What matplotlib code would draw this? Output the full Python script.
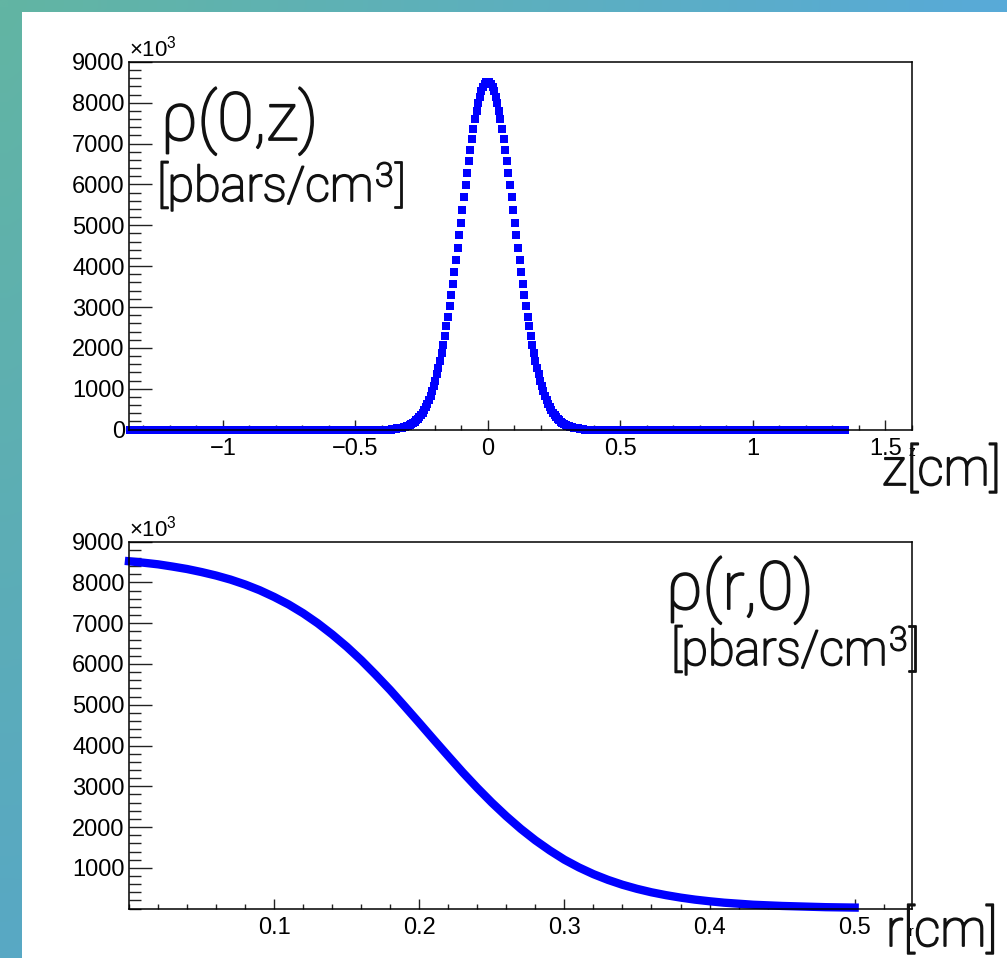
import numpy as np
import matplotlib
matplotlib.use("Agg")
import matplotlib.pyplot as plt
import matplotlib.patheffects as pe
from matplotlib.patches import Rectangle
from matplotlib.ticker import MultipleLocator

plt.rcParams["font.family"] = ["Liberation Sans", "DejaVu Sans"]
plt.rcParams["mathtext.fontset"] = "custom"
plt.rcParams["mathtext.rm"] = "Liberation Sans"
plt.rcParams["mathtext.it"] = "Liberation Sans:italic"

# ---- data (values in units of 10^3 pbars/cm^3) ----
# axial profile rho(0,z): 451 bins from -1.35 to 1.35 cm, zero outside |z|<0.36
z_grid = np.linspace(-1.35, 1.35, 451)
rho_z_peak = [
    15, 15, 20, 25, 30, 35, 45, 55, 65, 80,
    95, 115, 135, 160, 190, 225, 260, 305, 355, 415,
    480, 550, 635, 725, 825, 940, 1065, 1200, 1350, 1510,
    1685, 1875, 2075, 2295, 2525, 2765, 3020, 3290, 3565, 3850,
    4145, 4450, 4755, 5065, 5375, 5685, 5985, 6285, 6575, 6855,
    7115, 7365, 7595, 7800, 7985, 8145, 8280, 8385, 8460, 8505,
    8520,
    8505, 8460, 8385, 8280, 8145, 7985, 7800, 7595, 7365, 7115,
    6855, 6575, 6285, 5985, 5685, 5375, 5065, 4755, 4450, 4145,
    3850, 3565, 3290, 3020, 2765, 2525, 2295, 2075, 1875, 1685,
    1510, 1350, 1200, 1065, 940, 825, 725, 635, 550, 480,
    415, 355, 305, 260, 225, 190, 160, 135, 115, 95,
    80, 65, 55, 45, 35, 30, 25, 20, 15, 15,
]
n_pad = (len(z_grid) - len(rho_z_peak)) // 2
rho_z = np.concatenate([np.zeros(n_pad), rho_z_peak, np.zeros(n_pad)])

# radial profile rho(r,0): r = 0 .. 0.5 cm in 0.01 steps
r_grid = np.linspace(0.0, 0.5, 51)
rho_r = [
    8520, 8485, 8445, 8390, 8330, 8255, 8170, 8070, 7950, 7810,
    7645, 7460, 7245, 7000, 6725, 6425, 6095, 5735, 5360, 4960,
    4555, 4145, 3740, 3340, 2960, 2600, 2265, 1955, 1675, 1425,
    1200, 1010, 845, 705, 585, 485, 400, 330, 270, 220,
    180, 145, 120, 95, 80, 65, 55, 45, 35, 30, 25,
]

z_ticks = [-1, -0.5, 0, 0.5, 1, 1.5]
z_ticklabels = ["\u22121", "\u22120.5", "0", "0.5", "1", "1.5"]
r_ticks = [0.1, 0.2, 0.3, 0.4, 0.5]
r_ticklabels = ["0.1", "0.2", "0.3", "0.4", "0.5"]
top_yticks = list(range(0, 9001, 1000))
bot_yticks = list(range(1000, 9001, 1000))

W, H = 1007, 958
fig = plt.figure(figsize=(W / 100, H / 100), dpi=100)

# teal/blue gradient frame behind a white slide panel
bg = fig.add_axes([0, 0, 1, 1], zorder=-3)
gx, gy = np.meshgrid(np.linspace(0, 1, 64), np.linspace(0, 1, 64))
c_tl = np.array([98, 181, 163]) / 255
c_tr = np.array([88, 170, 216]) / 255
c_bl = np.array([88, 168, 196]) / 255
c_br = np.array([88, 170, 216]) / 255
grad = ((1 - gx)[..., None] * (1 - gy)[..., None] * c_tl + gx[..., None] * (1 - gy)[..., None] * c_tr
        + (1 - gx)[..., None] * gy[..., None] * c_bl + gx[..., None] * gy[..., None] * c_br)
bg.imshow(grad, extent=[0, 1, 0, 1], aspect="auto", interpolation="bilinear")
bg.axis("off")
fig.add_artist(Rectangle((21.5 / W, 0), 1, 1 - 12 / H, transform=fig.transFigure,
                         facecolor="white", edgecolor="none", zorder=-2))


def style_axes(ax, xminor):
    ax.xaxis.set_minor_locator(MultipleLocator(xminor))
    ax.yaxis.set_minor_locator(MultipleLocator(200))
    ax.tick_params(direction="in", which="both", top=False, right=False,
                   labelsize=17, width=1.0, color="#222222")
    ax.tick_params(axis="x", which="major", length=7.2, pad=6)
    ax.tick_params(axis="x", which="minor", length=3.6)
    ax.tick_params(axis="y", which="major", length=16.5, pad=3)
    ax.tick_params(axis="y", which="minor", length=8.6)
    for sp in ax.spines.values():
        sp.set_linewidth(1.1)
    ax.annotate(r"$\mathregular{\times10^{3}}$", xy=(0, 1), xycoords="axes fraction",
                xytext=(0, 5), textcoords="offset pixels", ha="left", va="baseline",
                fontsize=16)


# top panel: rho(0,z)
ax1 = fig.add_axes([129 / W, 1 - 429.5 / H, (911.7 - 129) / W, (429.5 - 62) / H])
ax1.plot(z_grid, rho_z, "s", color="blue", ms=5.4, mew=0, clip_on=False)
ax1.set_xlim(-1.354, 1.6)
ax1.set_ylim(0, 9000)
ax1.set_xticks(z_ticks)
ax1.set_xticklabels(z_ticklabels)
ax1.set_yticks(top_yticks)
ax1.set_yticklabels([str(v) for v in top_yticks])
style_axes(ax1, 0.1)
ax1.text(1.0, -0.06, "z", transform=ax1.transAxes, fontsize=10, ha="center", va="center")

# bottom panel: rho(r,0)
ax2 = fig.add_axes([129 / W, 1 - 908.6 / H, (911.7 - 129) / W, (908.6 - 541.7) / H])
ax2.plot(r_grid, rho_r, "-", color="blue", lw=6.0, solid_capstyle="projecting", clip_on=False)
ax2.set_xlim(0, 0.5393)
ax2.set_ylim(0, 9000)
ax2.set_xticks(r_ticks)
ax2.set_xticklabels(r_ticklabels)
ax2.set_yticks(bot_yticks)
ax2.set_yticklabels([str(v) for v in bot_yticks])
style_axes(ax2, 0.02)
ax2.text(1.0, -0.065, "r", transform=ax2.transAxes, fontsize=10, ha="center", va="center")

# slide annotations, drawn over the ROOT canvas (thin font, slightly thickened)
ink = "#111111"
big = dict(family=["Roboto", "DejaVu Sans"], weight="light", color=ink,
           path_effects=[pe.withStroke(linewidth=1.3, foreground=ink)])
renderer = fig.canvas.get_renderer()


def units_label(x_px, y_px, size):
    # "[pbars/cm" + raised "3" + "]"
    t = fig.text(x_px / W, 1 - y_px / H, "[pbars/cm", fontsize=size, ha="left",
                 va="baseline", **big)
    x1 = t.get_window_extent(renderer).x1
    s = fig.text((x1 + 2) / W, 1 - (y_px - 0.42 * size) / H, "3", fontsize=0.68 * size,
                 ha="left", va="baseline", **big)
    x2 = s.get_window_extent(renderer).x1
    fig.text((x2 + 2) / W, 1 - y_px / H, "]", fontsize=size, ha="left", va="baseline", **big)


fig.text(161 / W, 1 - 140 / H, "\u03c1(0,z)", fontsize=48, ha="left", va="baseline", **big)
units_label(157, 201, 35)
fig.text(666 / W, 1 - 609 / H, "\u03c1(r,0)", fontsize=48, ha="left", va="baseline", **big)
units_label(671, 665, 35)
fig.text(882 / W, 1 - 485 / H, "z[cm]", fontsize=37, ha="left", va="baseline", **big)
fig.text(886 / W, 1 - 946 / H, "r[cm]", fontsize=37, ha="left", va="baseline", **big)

fig.savefig("out.png", dpi=100)
